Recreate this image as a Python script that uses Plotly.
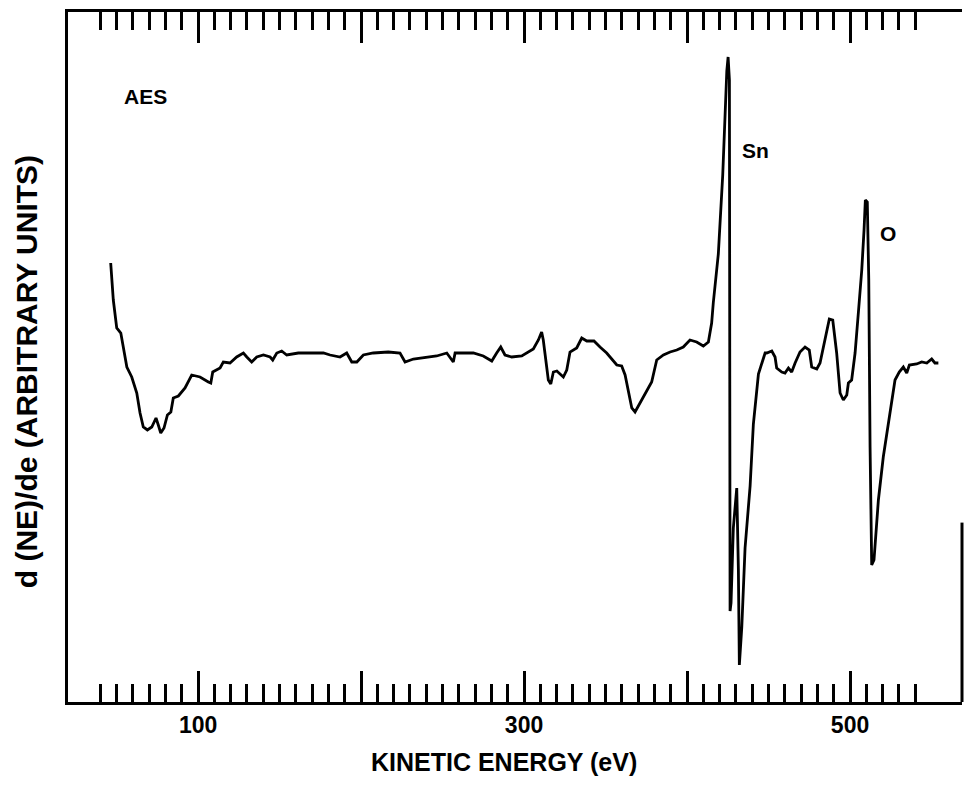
import plotly.graph_objects as go

# Kinetic energy (eV) and d(NE)/dE (arbitrary units)
energy_ev = [
    46.4, 48.0, 50.1, 52.6, 56.3, 59.3, 62.4, 64.4, 66.4, 68.9, 71.6, 74.2, 75.6, 77.1,
    79.1, 81.2, 83.3, 84.8, 87.9, 92.0, 96.1, 101.2, 106.3, 107.8, 109.0, 113.5, 115.5,
    119.6, 123.7, 127.8, 129.9, 132.9, 136.0, 140.1, 144.2, 145.8, 148.3, 151.3, 154.4,
    161.5, 168.7, 176.9, 181.0, 187.1, 191.2, 194.3, 197.4, 201.4, 207.5, 216.7, 223.9,
    227.0, 232.1, 240.3, 246.4, 252.6, 256.6, 257.7, 262.8, 268.9, 275.0, 280.2, 283.2,
    285.7, 288.3, 292.4, 298.6, 301.7, 305.7, 308.8, 310.8, 311.8, 313.5, 314.9, 316.4,
    318.0, 320.1, 324.1, 326.2, 328.2, 332.3, 335.4, 338.5, 342.9, 346.6, 350.7, 356.9,
    359.9, 362.0, 364.0, 366.1, 368.1, 371.2, 374.2, 378.3, 381.4, 385.5, 389.6, 393.7,
    397.7, 401.8, 405.9, 410.0, 413.1, 415.1, 416.1, 419.2, 421.9, 424.4, 425.2, 426.0,
    426.4, 427.0, 428.4, 430.5, 431.5, 432.1, 433.6, 435.6, 438.7, 440.7, 443.8, 447.9,
    448.9, 452.0, 454.0, 455.0, 458.1, 460.1, 462.2, 464.2, 466.3, 469.3, 472.4, 475.0,
    476.5, 479.6, 481.6, 483.6, 485.7, 487.3, 489.4, 491.8, 493.9, 495.9, 498.0, 499.0,
    501.0, 503.1, 505.1, 507.2, 508.6, 509.4, 510.6, 511.5, 512.3, 513.3, 514.7, 517.4,
    520.4, 524.5, 527.6, 530.2, 532.7, 534.8, 536.4, 540.9, 544.0, 547.1, 550.1, 552.1,
    554.2,
]
dnde_au = [
    9.2, 5.5, 2.7, 2.2, -1.2, -2.2, -3.8, -5.8, -7.2, -7.5, -7.2, -6.3, -7.0, -7.8,
    -7.3, -6.0, -5.7, -4.3, -4.1, -3.3, -2.0, -2.2, -2.7, -2.8, -1.7, -1.3, -0.7,
    -0.8, -0.2, 0.2, -0.2, -0.7, -0.2, 0.0, -0.2, -0.5, 0.2, 0.4, 0.0,
    0.2, 0.2, 0.2, 0.0, -0.2, 0.2, -0.7, -0.7, 0.0, 0.2, 0.3, 0.2,
    -0.7, -0.4, -0.2, -0.1, 0.2, -0.7, 0.2, 0.2, 0.2, -0.1, -0.6, 0.2,
    0.8, 0.0, -0.2, -0.1, 0.2, 0.6, 1.5, 2.3, 1.5, -0.5, -2.5, -2.9,
    -1.7, -1.6, -2.2, -1.5, 0.3, 0.7, 1.7, 1.4, 1.4, 0.8, 0.2, -1.0,
    -1.1, -2.0, -3.8, -5.3, -5.7, -4.8, -4.0, -2.7, -0.5, 0.0, 0.3, 0.5,
    0.8, 1.5, 1.3, 0.9, 1.3, 3.2, 5.2, 10.1, 18.0, 28.4, 29.8, 27.5,
    -25.6, -24.8, -17.3, -13.3, -21.4, -31.0, -27.2, -19.3, -13.1, -6.9, -1.9, 0.2,
    0.2, 0.4, -0.2, -1.3, -1.7, -1.8, -1.3, -1.7, -0.8, 0.3, 0.8, 0.5,
    -1.2, -1.4, -0.8, 0.8, 2.2, 3.6, 3.5, 0.2, -3.8, -4.5, -4.0, -2.8,
    -2.5, 0.2, 4.2, 8.5, 12.5, 15.5, 15.3, 7.5, -9.2, -21.0, -20.5, -14.5,
    -10.2, -5.8, -2.5, -1.7, -1.2, -1.8, -1.0, -0.9, -0.7, -0.8, -0.4, -0.8,
    -0.8,
]

major_ticks = [100, 200, 300, 400, 500]
major_labels = ["100", "", "300", "", "500"]
minor_ticks = [40, 50, 60, 70, 80, 90, 110, 120, 130, 140, 150, 160, 170, 180, 190,
               210, 220, 230, 240, 250, 260, 270, 280, 290, 310, 320, 330, 340, 350,
               360, 370, 380, 390, 410, 420, 430, 440, 450, 460, 470, 480, 490, 510,
               520, 530, 540]

labels = [("AES", 67.5, 25.9), ("Sn", 441.7, 20.5), ("O", 523.3, 12.2)]

x_range = [20.2, 568.7]
y_range = [-34.7, 34.3]

FONT = "Liberation Sans, Arial, Helvetica, sans-serif"

fig = go.Figure()
fig.add_trace(go.Scatter(
    x=energy_ev, y=dnde_au, mode="lines",
    line=dict(color="black", width=2.8), showlegend=False, hoverinfo="skip",
))

# the page has an 8px body margin on every side, so the figure is 16px smaller
fig.update_layout(
    width=956, height=771, autosize=False,
    margin=dict(l=60, r=2, t=4, b=77),
    paper_bgcolor="white", plot_bgcolor="white",
    xaxis=dict(
        range=x_range, showline=True, linewidth=3, linecolor="black", mirror="ticks",
        showgrid=False, zeroline=False, ticks="inside", tickmode="array",
        tickvals=major_ticks, ticktext=major_labels, ticklen=31, tickwidth=2.5,
        tickcolor="black",
        tickfont=dict(family=FONT, size=23, color="black", weight="bold"),
        minor=dict(tickmode="array", tickvals=minor_ticks, ticks="inside", ticklen=18,
                   tickwidth=2.5, tickcolor="black", showgrid=False),
    ),
    yaxis=dict(range=y_range, showline=True, linewidth=3, linecolor="black",
               showgrid=False, zeroline=False, ticks="", showticklabels=False),
)

# partial right frame edge (visible near the bottom in the reference)
fig.add_shape(type="line", xref="paper", yref="paper", x0=1, x1=1, y0=0, y1=0.26,
              line=dict(color="black", width=3))

for txt, xv, yv in labels:
    fig.add_annotation(x=xv, y=yv, xref="x", yref="y", text=txt, showarrow=False,
                       xanchor="center", yanchor="middle",
                       font=dict(family=FONT, size=21, color="black", weight="bold"))

fig.add_annotation(x=0.4877, y=-0.087, xref="paper", yref="paper",
                   xanchor="center", yanchor="middle",
                   text="KINETIC ENERGY (eV)", showarrow=False,
                   font=dict(family=FONT, size=25, color="black", weight="bold"))
fig.add_annotation(x=-0.0469, y=0.478, xref="paper", yref="paper",
                   xanchor="center", yanchor="middle",
                   text="d (NE)/de (ARBITRARY UNITS)", textangle=-90, showarrow=False,
                   font=dict(family=FONT, size=30, color="black", weight="bold"))

fig.write_html("out.html")
